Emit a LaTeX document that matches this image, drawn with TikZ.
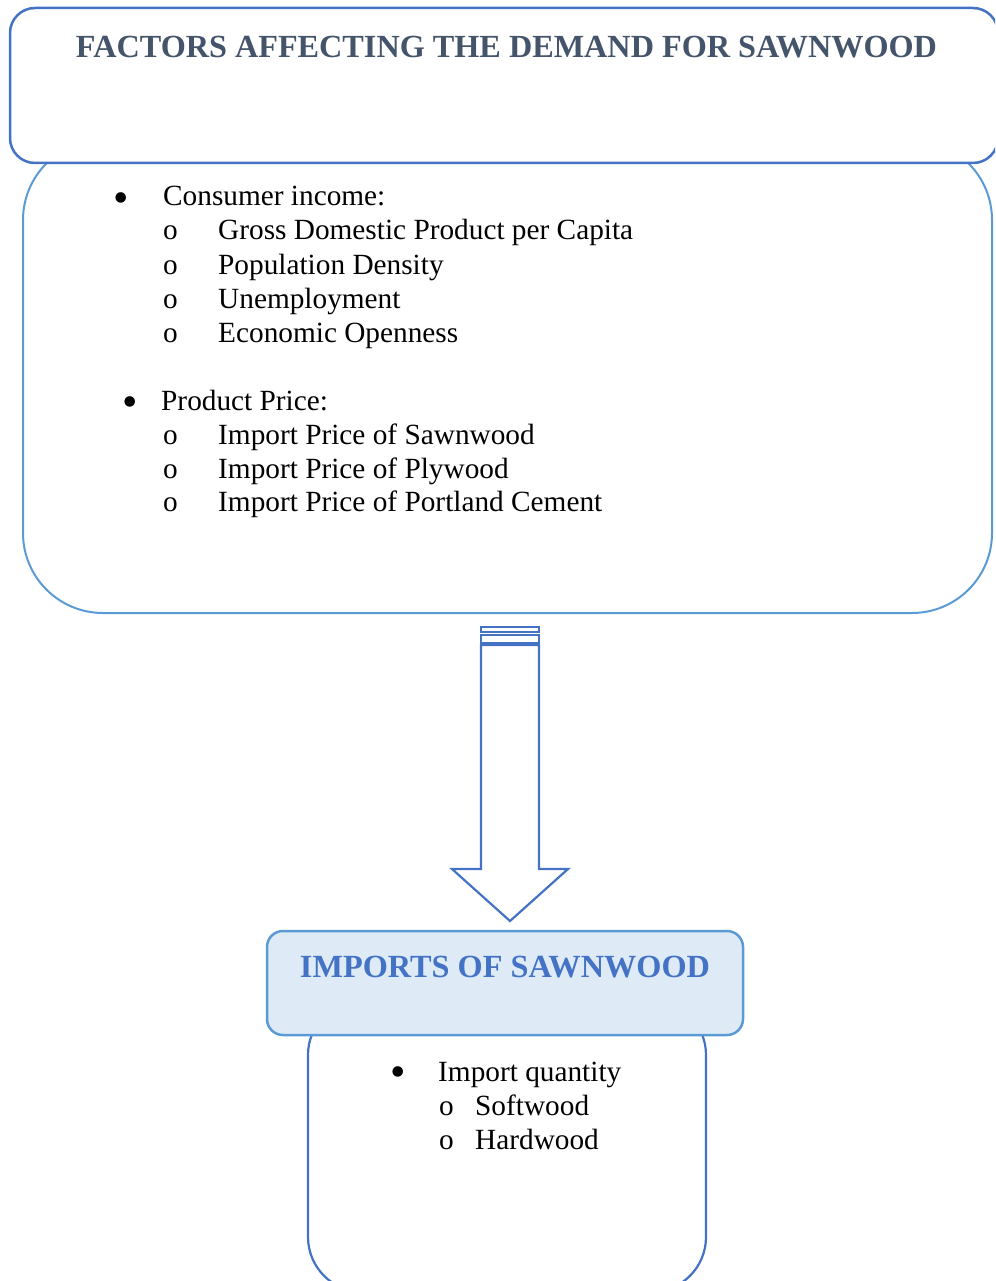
\documentclass[tikz,border=0pt]{standalone}
\usepackage{fontspec}
\setmainfont{Liberation Serif}
\usepackage{graphicx}
\definecolor{titlegray}{HTML}{44546A}
\definecolor{accblue}{HTML}{4472C4}
\definecolor{ltblue}{HTML}{5B9BD5}
\definecolor{fillblue}{HTML}{DEEBF7}
\begin{document}
\begin{tikzpicture}[x=1pt,y=-1pt,
  box/.style={draw, inner sep=0pt, outer sep=0pt},
  txt/.style={anchor=base west, inner sep=0pt, font=\fontsize{29.3}{34}\selectfont},
  bul/.style={anchor=center, inner sep=0pt, font=\fontsize{44}{44}\selectfont}]
\useasboundingbox (0,0) rectangle (995,1281);
\clip (0,0) rectangle (995,1281);
% second (list) box
\node (list) [box, draw=ltblue, line width=2pt, fill=white, rounded corners=80pt,
  minimum width=969pt, minimum height=473pt] at (507.5,376.5) {};
% top title box
\node (top) [box, draw=accblue, line width=2.5pt, fill=white, rounded corners=25pt,
  minimum width=988pt, minimum height=155pt] at (504,85.5) {};
\node (title) [anchor=base, inner sep=0pt, text=titlegray] at (506.5,58)
  {\resizebox{861pt}{!}{\fontsize{33}{40}\selectfont\bfseries FACTORS AFFECTING THE DEMAND FOR SAWNWOOD}};
% list text
\node (b1) [bul] at (121,203) {\textbullet};
\node (t1) [txt] at (163,206) {Consumer income:};
\foreach \y/\s [count=\i] in {240/Gross Domestic Product per Capita,274/Population Density,308/Unemployment,342/Economic Openness}{
  \node (o1\i) [txt] at (163,\y) {o};
  \node (s1\i) [txt] at (218,\y) {\s};
}
\node (b2) [bul] at (130,407) {\textbullet};
\node (t2) [txt] at (161,410) {Product Price:};
\foreach \y/\s [count=\i] in {444/Import Price of Sawnwood,478/Import Price of Plywood,511/Import Price of Portland Cement}{
  \node (o2\i) [txt] at (163,\y) {o};
  \node (s2\i) [txt] at (218,\y) {\s};
}
% striped down arrow
\draw[accblue, line width=2pt] (481,627) rectangle (539,632);
\draw[accblue, line width=2pt] (481,635) rectangle (539,643);
\draw[accblue, line width=2.2pt, line join=miter]
  (481,645) -- (539,645) -- (539,869) -- (568,869) -- (510,921) -- (452,869) -- (481,869) -- cycle;
% bottom box
\node (qty) [box, draw=accblue, line width=2.2pt, fill=white, rounded corners=55pt,
  minimum width=398pt, minimum height=292pt] at (507,1146) {};
% imports box
\node (imp) [box, draw=ltblue, line width=2.5pt, fill=fillblue, rounded corners=16pt,
  minimum width=476pt, minimum height=104pt] at (505,983) {};
\node (imptitle) [anchor=base, inner sep=0pt, text=accblue] at (505,977)
  {\resizebox{410pt}{!}{\fontsize{30}{36}\selectfont\bfseries IMPORTS OF SAWNWOOD}};
\node (b3) [bul] at (398,1077) {\textbullet};
\node (t3) [txt] at (438,1081) {Import quantity};
\node (o31) [txt] at (439,1115) {o};
\node (s31) [txt] at (475,1115) {Softwood};
\node (o32) [txt] at (439,1149) {o};
\node (s32) [txt] at (475,1149) {Hardwood};
\end{tikzpicture}
\end{document}
